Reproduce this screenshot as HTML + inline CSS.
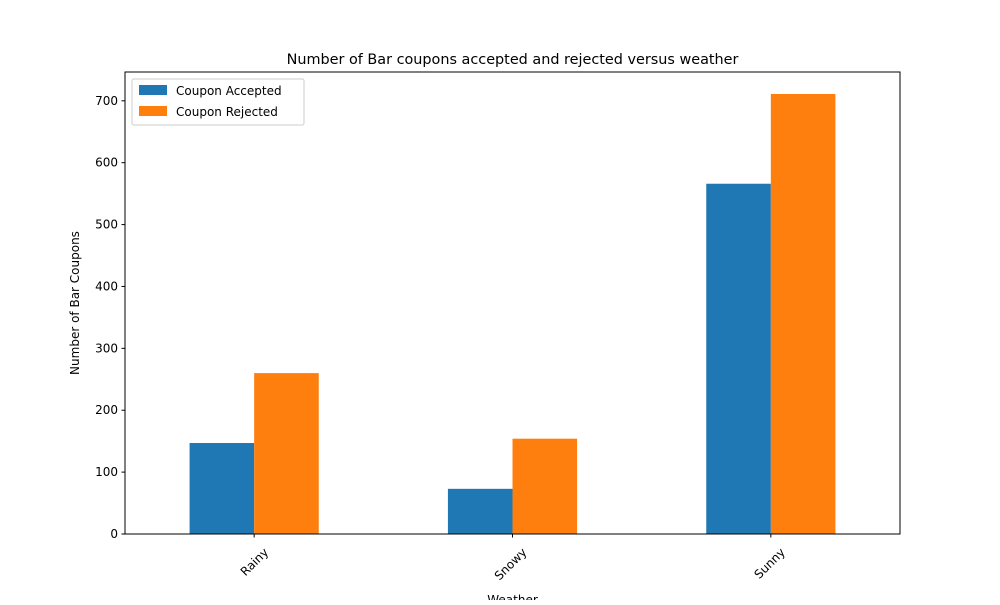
<!DOCTYPE html>
<html><head><meta charset="utf-8"><style>
body{margin:0;background:#fff}
svg{font-family:"DejaVu Sans","Liberation Sans",sans-serif}
</style></head><body>
<svg id="chart" width="1000" height="600" viewBox="0 0 1000 600" xmlns="http://www.w3.org/2000/svg">
<rect width="1000" height="600" fill="#fff"/>
<g id="bars"></g>
<g id="axes"></g>
<text x="512.5" y="64" text-anchor="middle" font-size="14.4">Number of Bar coupons accepted and rejected versus weather</text>
<text x="512.5" y="604" text-anchor="middle" font-size="12">Weather</text>
<text transform="translate(79,303) rotate(-90)" text-anchor="middle" font-size="12">Number of Bar Coupons</text>
<g>
<rect x="132" y="79" width="172" height="46" fill="#fff" stroke="#ccc" rx="2"/>
<rect x="139" y="85" width="28" height="10" fill="#1f77b4"/>
<text x="176" y="95" font-size="12">Coupon Accepted</text>
<rect x="139" y="106" width="28" height="10" fill="#ff7f0e"/>
<text x="176" y="116" font-size="12">Coupon Rejected</text>
</g>
</svg>
<script>
const categories = ["Rainy","Snowy","Sunny"];
const accepted = [147, 73, 566];
const rejected = [260, 154, 711];
const yTicks = [0,100,200,300,400,500,600,700];
const NS="http://www.w3.org/2000/svg";
const L=125,R=900,T=72,B=534;
const yMax=Math.max(...accepted,...rejected)*1.05;
const y=v=>B-(v/yMax)*(B-T);
const x=i=>L+(i+0.5)*(R-L)/categories.length;
const bw=0.25*(R-L)/categories.length;
const bars=document.getElementById('bars'), axes=document.getElementById('axes');
function mk(tag,attrs,parent){const e=document.createElementNS(NS,tag);for(const k in attrs)e.setAttribute(k,attrs[k]);parent.appendChild(e);return e;}
categories.forEach((c,i)=>{
  const a=mk('rect',{x:x(i)-bw,y:y(accepted[i]),width:bw,height:B-y(accepted[i]),fill:'#1f77b4'},bars);
  
  
  const r=mk('rect',{x:x(i),y:y(rejected[i]),width:bw,height:B-y(rejected[i]),fill:'#ff7f0e'},bars);
  
  
  mk('line',{x1:x(i),x2:x(i),y1:B,y2:B+3.5,stroke:'#000'},axes);
  const t=mk('text',{transform:`translate(${x(i)+9},${B+13}) rotate(-45)`,'text-anchor':'end','font-size':12,dy:'0.7em'},axes);
  t.textContent=c;
  
  
});
yTicks.forEach(v=>{
  mk('line',{x1:L-3.5,x2:L,y1:y(v),y2:y(v),stroke:'#000'},axes);
  const t=mk('text',{x:L-7,y:y(v)+4,'text-anchor':'end','font-size':12},axes);
  t.textContent=v;
  
  
});
const f=mk('rect',{x:L,y:T,width:R-L,height:B-T,fill:'none',stroke:'#000','stroke-width':1},axes);


</script>
</body></html>
